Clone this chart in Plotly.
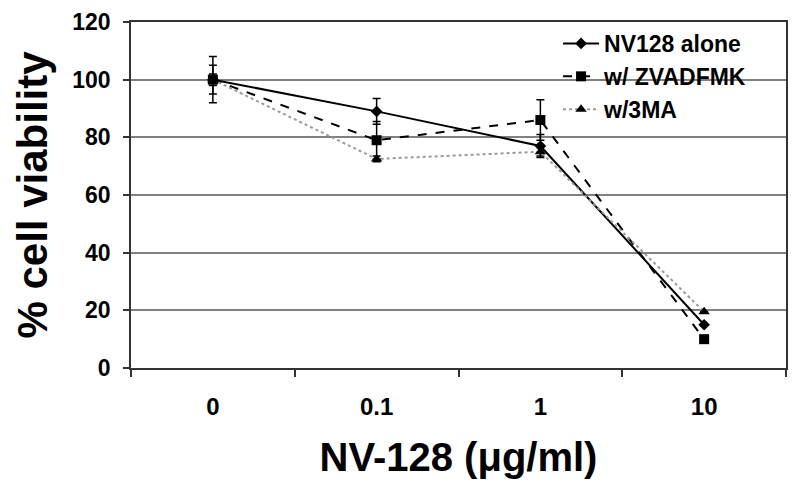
import plotly.graph_objects as go

# data
doses = ["0", "0.1", "1", "10"]

alone = [100, 89, 77, 15]
alone_err = [8, 4.5, 4, 0]

zvad = [100, 79, 86, 10]
zvad_err = [5, 6.5, 7, 0]

ma3 = [100, 72.5, 75, 19.5]
ma3_err = [2, 1, 1.5, 0]

FONT = "Arial, Liberation Sans, sans-serif"

fig = go.Figure()

fig.add_trace(go.Scatter(
    x=doses, y=alone, name="NV128 alone", mode="lines+markers",
    line=dict(color="black", width=2),
    marker=dict(symbol="diamond", size=9, color="black"),
    error_y=dict(type="data", array=alone_err, color="black", thickness=1.5, width=4),
))
fig.add_trace(go.Scatter(
    x=doses, y=zvad, name="w/ ZVADFMK", mode="lines+markers",
    line=dict(color="black", width=2, dash="dash"),
    marker=dict(symbol="square", size=10, color="black"),
    error_y=dict(type="data", array=zvad_err, color="black", thickness=1.5, width=4),
))
fig.add_trace(go.Scatter(
    x=doses, y=ma3, name="w/3MA", mode="lines+markers",
    line=dict(color="#9a9a9a", width=2, dash="dot"),
    marker=dict(symbol="triangle-up", size=10, color="black"),
    error_y=dict(type="data", array=ma3_err, color="black", thickness=1.5, width=4),
))

# page body has an 8px margin, so margins are offset by that
fig.update_layout(
    width=800, height=496,
    margin=dict(l=123, r=22, t=14, b=136),
    plot_bgcolor="white", paper_bgcolor="white",
    font=dict(family=FONT, color="black"),
    showlegend=True,
    legend=dict(
        x=0.652, y=1.0, xanchor="left", yanchor="top",
        bgcolor="rgba(0,0,0,0)",
        font=dict(size=23, family=FONT, weight="bold"),
        itemwidth=36,
    ),
)

fig.update_xaxes(
    type="category", range=[-0.5, 3.5], automargin=False,
    showline=True, linecolor="#333", linewidth=1.5, mirror=True,
    showgrid=False, ticks="outside", tickson="boundaries",
    ticklen=7, tickcolor="#333", tickwidth=1.5, ticklabelstandoff=16,
    tickfont=dict(size=24, family=FONT, weight="bold"),
    title=dict(text="NV-128 (μg/ml)", font=dict(size=40, family=FONT, weight="bold"), standoff=24),
)
fig.update_yaxes(
    range=[0, 120], dtick=20, automargin=False, ticklabeloverflow="allow",
    showline=True, linecolor="#333", linewidth=1.5, mirror=True,
    showgrid=True, gridcolor="#808080", gridwidth=1.5,
    ticks="outside", ticklen=6, tickcolor="#333", tickwidth=1.5, ticklabelstandoff=8,
    tickfont=dict(size=23, family=FONT, weight="bold"),
    title=dict(text="% cell viability", font=dict(size=42, family=FONT, weight="bold"), standoff=12),
    zeroline=False,
)

fig.write_html("out.html")
